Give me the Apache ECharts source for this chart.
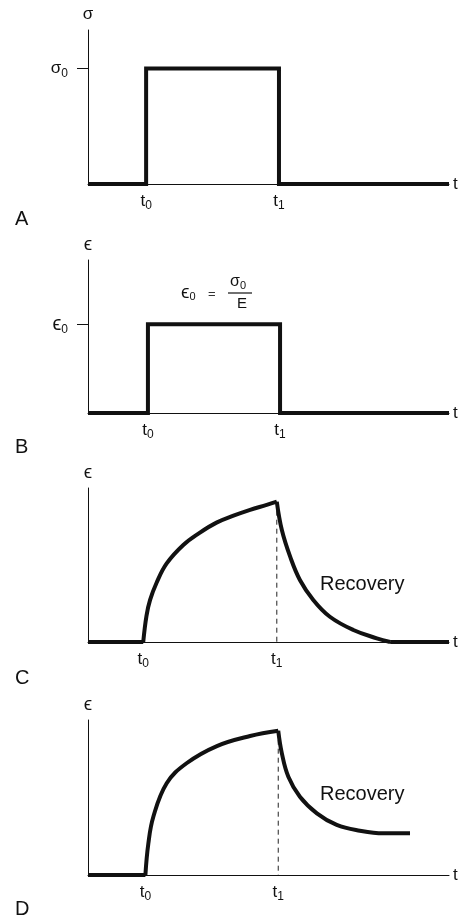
<!DOCTYPE html>
<html>
<head>
<meta charset="utf-8">
<script src="https://cdn.jsdelivr.net/npm/echarts@6/dist/echarts.min.js"></script>
<style>
html,body{margin:0;padding:0;background:#fff;}
#chart{width:461px;height:920px;}
</style>
</head>
<body>
<div id="chart"></div>
<script>
// ---- Data (time in % of axis length, response in % of axis height) ----
const stressT = [0, 16.1, 16.1, 52.9, 52.9, 100];
const stressV = [0, 0, 75, 75, 0, 0];

const elasticT = [0, 16.6, 16.6, 53.2, 53.2, 100];
const elasticV = [0, 0, 58, 58, 0, 0];

// panel C: creep then full recovery
const recovBaseT = [0, 15.3];
const recovBaseV = [0, 0];
const recovRiseT = [15.3, 16.2, 17.2, 19.0, 21.8, 26.4, 31.0, 35.6, 40.3, 44.9, 49.5, 52.3];
const recovRiseV = [0, 17, 27.3, 38.5, 51, 63, 71, 77.5, 82, 85.8, 89, 91.1];
const recovFallT = [52.3, 53.7, 56.0, 58.7, 62.4, 67.0, 73.5, 80.0, 83.7];
const recovFallV = [91.1, 72.7, 55.4, 40.3, 27.3, 16.4, 7.8, 2.4, 0];
const recovTailT = [83.7, 100];
const recovTailV = [0, 0];

// panel D: creep then partial recovery
const permBaseT = [0, 15.9];
const permBaseV = [0, 0];
const permRiseT = [15.9, 16.7, 18.1, 21.8, 27.3, 35.7, 44.9, 52.7];
const permRiseV = [0, 20, 37.6, 59.2, 72.1, 83.2, 89.7, 93.1];
const permFallT = [52.7, 53.7, 55.5, 58.7, 63.4, 68.9, 75.3, 81.8, 89.2];
const permFallV = [93.1, 78.5, 63.4, 50.5, 39.8, 32.3, 28.6, 26.9, 26.9];

const t0s = [16.1, 16.6, 15.3, 15.9];
const t1s = [52.9, 53.2, 52.3, 52.7];
const peaks = [null, null, 91.1, 93.1];
const tickLabels = ['{t|t}{s|0}', '{t|t}{s|1}'];
const yNames = ['σ', 'ϵ', 'ϵ', 'ϵ'];
const yLevelNames = ['{t|σ}{s|0}', '{e|ϵ}{s|0}'];
const yLevels = [75, 58];
const panelLetters = ['A', 'B', 'C', 'D'];
const curveNote = 'Recovery';

const FONT = '"Liberation Sans", Arial, sans-serif';
const grids = [
  {left: 88, width: 361, top: 30, height: 154},
  {left: 88, width: 361, top: 260, height: 153},
  {left: 88, width: 361, top: 488, height: 154},
  {left: 88, width: 361, top: 720, height: 155}
];

const richSub = {
  t: {fontSize: 17, fontFamily: FONT, color: '#111', lineHeight: 22},
  e: {fontSize: 20, fontFamily: FONT, color: '#111', lineHeight: 22},
  s: {fontSize: 12, fontFamily: FONT, color: '#111', lineHeight: 10, verticalAlign: 'bottom'}
};

function zip(a, b) { return a.map((v, i) => [v, b[i]]); }

const xAxes = grids.map((g, i) => ({
  type: 'value', gridIndex: i, min: 0, max: 100,
  axisLine: {show: true, lineStyle: {color: '#111', width: 1}},
  axisTick: {show: false},
  splitLine: {show: false},
  name: 't', nameLocation: 'end', nameGap: 4,
  nameTextStyle: {fontSize: 17, fontFamily: FONT, color: '#111', verticalAlign: 'middle', align: 'left'},
  axisLabel: {
    show: true, margin: 6,
    customValues: [t0s[i], t1s[i]],
    formatter: (v) => (Math.abs(v - t0s[i]) < 0.01 ? tickLabels[0] : tickLabels[1]),
    rich: richSub
  }
}));

const yAxes = grids.map((g, i) => ({
  type: 'value', gridIndex: i, min: 0, max: 100,
  axisLine: {show: true, lineStyle: {color: '#111', width: 1}},
  splitLine: {show: false},
  name: yNames[i], nameLocation: 'end', nameGap: i === 0 ? 7 : 6,
  nameTextStyle: {fontSize: i === 0 ? 17 : 19, fontFamily: FONT, color: '#111'},
  axisTick: i < 2 ? {show: true, length: 11, customValues: [yLevels[i]], lineStyle: {color: '#111', width: 1}} : {show: false},
  axisLabel: i < 2 ? {
    show: true, margin: 20,
    customValues: [yLevels[i]],
    formatter: () => yLevelNames[i],
    rich: richSub
  } : {show: false}
}));

const thick = {color: '#111', width: 4, join: 'miter', cap: 'butt'};
const dashed = {color: '#222', width: 1, type: [5, 4]};

function seg(ax, data, smooth) {
  return {type: 'line', xAxisIndex: ax, yAxisIndex: ax, data: data, showSymbol: false,
    smooth: smooth || false,
    lineStyle: thick, clip: false, animation: false};
}

const series = [
  seg(0, zip(stressT, stressV)),
  seg(1, zip(elasticT, elasticV)),
  {type: 'line', xAxisIndex: 2, yAxisIndex: 2, data: [[t1s[2], peaks[2]], [t1s[2], 0]], showSymbol: false, lineStyle: dashed, clip: false, animation: false},
  seg(2, zip(recovBaseT, recovBaseV)),
  seg(2, zip(recovRiseT, recovRiseV), 0.4),
  seg(2, zip(recovFallT, recovFallV), 0.4),
  seg(2, zip(recovTailT, recovTailV)),
  {type: 'line', xAxisIndex: 3, yAxisIndex: 3, data: [[t1s[3], peaks[3]], [t1s[3], 0]], showSymbol: false, lineStyle: dashed, clip: false, animation: false},
  seg(3, zip(permBaseT, permBaseV)),
  seg(3, zip(permRiseT, permRiseV), 0.4),
  seg(3, zip(permFallT, permFallV), 0.4)
];

const letterYs = [219, 447, 678, 909];
const graphics = [];
panelLetters.forEach((L, i) => {
  graphics.push({type: 'text', left: 15, top: letterYs[i] - 10,
    style: {text: L, font: '20px ' + FONT, fill: '#111'}});
});
graphics.push({type: 'text', left: 320, top: 574, style: {text: curveNote, font: '20px ' + FONT, fill: '#111'}});
graphics.push({type: 'text', left: 320, top: 784, style: {text: curveNote, font: '20px ' + FONT, fill: '#111'}});
// formula ϵ0 = σ0 / E
graphics.push({type: 'text', left: 181, top: 283,
  style: {text: '{t|ϵ}{s|0}', rich: {t: {fontSize: 19, fontFamily: FONT, fill: '#111', lineHeight: 20}, s: {fontSize: 11, fontFamily: FONT, fill: '#111', lineHeight: 9, verticalAlign: 'bottom'}}}});
graphics.push({type: 'text', left: 208, top: 288, style: {text: '=', font: '13px ' + FONT, fill: '#333'}});
graphics.push({type: 'text', left: 230, top: 274,
  style: {text: '{t|σ}{s|0}', rich: {t: {fontSize: 16, fontFamily: FONT, fill: '#111', lineHeight: 18}, s: {fontSize: 11, fontFamily: FONT, fill: '#111', lineHeight: 10, verticalAlign: 'bottom'}}}});
graphics.push({type: 'line', shape: {x1: 228, y1: 293, x2: 252, y2: 293}, style: {stroke: '#111', lineWidth: 1.2}});
graphics.push({type: 'text', left: 237, top: 296, style: {text: 'E', font: '15px ' + FONT, fill: '#111'}});

const chart = echarts.init(document.getElementById('chart'), null, {renderer: 'canvas'});
chart.setOption({
  animation: false,
  backgroundColor: '#fff',
  textStyle: {fontFamily: FONT},
  grid: grids,
  xAxis: xAxes,
  yAxis: yAxes,
  series: series,
  graphic: graphics
});
</script>
</body>
</html>
